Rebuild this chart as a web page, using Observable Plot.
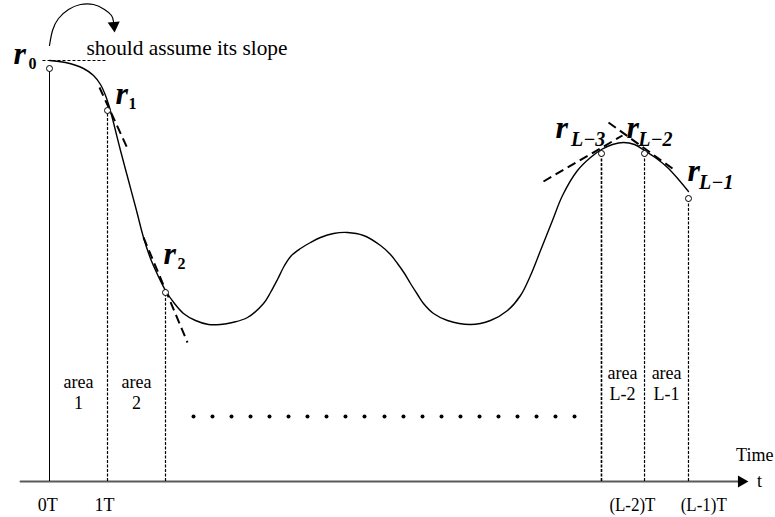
<!DOCTYPE html>
<html><head><meta charset="utf-8">
<script src="https://cdn.jsdelivr.net/npm/d3@7"></script>
<script src="https://cdn.jsdelivr.net/npm/@observablehq/plot@0.6"></script>
<style>body{margin:0;background:#fff;} #chart svg{display:block;}</style>
</head><body><div id="chart"></div>
<script>
// ---- data (time in units of T, value in arbitrary amplitude units; axis at 0) ----
const curveT = [0, 0.276, 0.586, 0.759, 0.879, 0.966, 1.034, 1.103, 1.224, 1.362, 1.5, 1.621, 1.741, 1.862, 2.0, 2.155, 2.31, 2.517, 2.741, 2.948, 3.155, 3.414, 3.69, 3.81, 3.931, 4.052, 4.172, 4.328, 4.5, 4.672, 4.897, 5.138, 5.414, 5.707, 5.879, 6.0, 6.121, 6.224, 6.345, 6.448, 6.621, 6.862, 7.259, 7.603, 7.897, 8.121, 8.293, 8.466, 8.672, 8.845, 9.103, 9.328, 9.517, 9.707, 9.897, 10.086, 10.259, 10.466, 10.655, 10.845, 11.017];
const curveV = [4.21, 4.19, 4.13, 4.06, 3.97, 3.86, 3.74, 3.59, 3.31, 3.01, 2.71, 2.44, 2.23, 2.07, 1.91, 1.78, 1.68, 1.61, 1.57, 1.57, 1.59, 1.64, 1.78, 1.89, 2.02, 2.16, 2.26, 2.33, 2.39, 2.44, 2.48, 2.49, 2.46, 2.36, 2.27, 2.18, 2.08, 1.98, 1.87, 1.78, 1.68, 1.61, 1.57, 1.61, 1.71, 1.86, 2.06, 2.31, 2.61, 2.86, 3.11, 3.24, 3.32, 3.37, 3.39, 3.37, 3.31, 3.23, 3.14, 3.02, 2.90];

const sampleT = [0, 1, 2, 9.517, 10.259, 11.017];
const pinV    = [4.13, 3.71, 1.89, 3.28, 3.28, 2.83];
const sampleSub = ["0", "1", "2", "L\u22123", "L\u22122", "L\u22121"];
const rLabelT = [-0.62, 1.138, 1.966, 8.724, 9.948, 11.0];
const rLabelV = [4.18, 3.78, 2.18, 3.44, 3.44, 3.01];
const subLabelT = [-0.36, 1.362, 2.207, 8.99, 10.15, 11.2];
const subLabelV = [4.13, 3.73, 2.13, 3.36, 3.36, 2.93];

// tangent segments at sample points
const tanT1 = [-0.121, 0.862, 1.621, 8.517, 9.638];
const tanV1 = [4.21, 3.94, 2.44, 3.00, 3.59];
const tanT2 = [1.0, 1.345, 2.379, 9.879, 10.741];
const tanV2 = [4.21, 3.33, 1.39, 3.46, 3.13];

// curved arrow over r0
const arcT = [0, 0.052, 0.155, 0.328, 0.534, 0.759, 0.948, 1.069, 1.103];
const arcV = [4.36, 4.51, 4.63, 4.72, 4.77, 4.77, 4.72, 4.66, 4.60];
const arcHeadT = [1.112];
const arcHeadV = [4.56];
const noteText = ["should assume its slope"];
const noteT = [0.638];
const noteV = [4.27];

// time axis
const axisT = [-0.5, 11.88];
const axisHeadT = [11.93];
const tickLabels = ["0T", "1T", "(L-2)T", "(L-1)T"];
const tickLabelT = [-0.03, 0.95, 10.05, 11.28];
const tickLabelV = [-0.24, -0.24, -0.24, -0.24];
const axisTitle = ["Time", "t"];
const axisTitleT = [12.16, 12.24];
const axisTitleV = [0.26, 0.0];

// area labels
const areaLabels = ["area\n1", "area\n2", "area\nL-2", "area\nL-1"];
const areaT = [0.5, 1.5, 9.88, 10.64];
const areaV = [0.90, 0.90, 0.99, 0.99];

// ellipsis dots
const dotsT = [2.483, 2.81, 3.138, 3.466, 3.793, 4.121, 4.448, 4.776, 5.103, 5.431, 5.776, 6.103, 6.431, 6.759, 7.086, 7.414, 7.741, 8.069, 8.397, 8.724, 9.052];
const dotsV = 0.65;

// ---- tables ----
const curve = curveT.map((t, i) => ({t, v: curveV[i]}));
const samples = sampleT.map((t, i) => ({t, pin: pinV[i], sub: sampleSub[i], rt: rLabelT[i], rv: rLabelV[i], st: subLabelT[i], sv: subLabelV[i], i}));
const tangents = tanT1.map((t, i) => ({x1: t, y1: tanV1[i], x2: tanT2[i], y2: tanV2[i], i}));
const arc = arcT.map((t, i) => ({t, v: arcV[i]}));
const ticks = tickLabels.map((s, i) => ({s, t: tickLabelT[i], v: tickLabelV[i]}));
const areas = areaLabels.map((s, i) => ({s, t: areaT[i], v: areaV[i]}));
const dots = dotsT.map(t => ({t, v: dotsV}));
const serif = "'Liberation Serif','Times New Roman',serif";

const plot = Plot.plot({
  width: 775, height: 517, margin: 0,
  x: {domain: [0, 1], range: [49, 107], axis: null},
  y: {domain: [0, 1], range: [481, 381], axis: null},
  style: {fontFamily: serif, background: "white", color: "black"},
  marks: [
    // time axis
    Plot.line(axisT.map(t => ({t, v: 0})), {x: "t", y: "v", stroke: "#5a5a5a", strokeWidth: 2}),
    Plot.dot(axisHeadT.map(t => ({t, v: 0})), {x: "t", y: "v", symbol: "triangle", r: 4.5, fill: "black", stroke: "none", rotate: 90}),
    // vertical pins
    Plot.ruleX(samples.filter(d => d.i === 0), {x: "t", y1: 0, y2: "pin", stroke: "black", strokeWidth: 1}),
    Plot.ruleX(samples.filter(d => d.i > 0), {x: "t", y1: 0, y2: "pin", stroke: "black", strokeWidth: d => d.i === 3 ? 1.6 : 1.2, strokeDasharray: "3,1.5"}),
    // tangents
    Plot.link(tangents.filter(d => d.i === 0), {x1: "x1", y1: "y1", x2: "x2", y2: "y2", stroke: "black", strokeWidth: 1.2, strokeDasharray: "3,2"}),
    Plot.link(tangents.filter(d => d.i > 0), {x1: "x1", y1: "y1", x2: "x2", y2: "y2", stroke: "black", strokeWidth: 2, strokeDasharray: "9,5"}),
    // the signal curve
    Plot.line(curve, {x: "t", y: "v", curve: "catmull-rom", stroke: "black", strokeWidth: 1.4}),
    // sample pins
    Plot.dot(samples, {x: "t", y: "pin", r: 3, fill: "white", stroke: "black", strokeWidth: 1}),
    // r labels
    Plot.text(samples, {x: "rt", y: "rv", text: () => "r", textAnchor: "start", lineAnchor: "bottom", fontSize: 32, fontWeight: "bold", fontStyle: "italic"}),
    Plot.text(samples.filter(d => d.i < 3), {x: "st", y: "sv", text: "sub", textAnchor: "start", lineAnchor: "bottom", fontSize: 16, fontWeight: "bold"}),
    Plot.text(samples.filter(d => d.i >= 3), {x: "st", y: "sv", text: "sub", textAnchor: "start", lineAnchor: "bottom", fontSize: 20, fontWeight: "bold", fontStyle: "italic"}),
    // curved arrow + note
    Plot.line(arc, {x: "t", y: "v", curve: "natural", stroke: "black", strokeWidth: 1.2}),
    Plot.dot(arcHeadT.map((t, i) => ({t, v: arcHeadV[i]})), {x: "t", y: "v", symbol: "triangle", r: 4.5, fill: "black", stroke: "none", rotate: 175}),
    Plot.text(noteText.map((s, i) => ({s, t: noteT[i], v: noteV[i]})), {x: "t", y: "v", text: "s", textAnchor: "start", lineAnchor: "bottom", fontSize: 21, className: "note"}),
    // axis labels
    Plot.text(ticks, {x: "t", y: "v", text: "s", textAnchor: "middle", lineAnchor: "middle", fontSize: 18, className: "ticklab"}),
    Plot.text(axisTitle.map((s, i) => ({s, t: axisTitleT[i], v: axisTitleV[i]})), {x: "t", y: "v", text: "s", textAnchor: "middle", lineAnchor: "middle", fontSize: 18}),
    // area labels
    Plot.text(areas, {x: "t", y: "v", text: "s", textAnchor: "middle", lineAnchor: "middle", fontSize: 18, lineHeight: 1.2}),
    // ellipsis
    Plot.dot(dots, {x: "t", y: "v", r: 2, fill: "black", stroke: "none"})
  ]
});
document.getElementById("chart").append(plot);
// compress the narrow serif labels to the widths seen in the figure
d3.select(plot).selectAll(".ticklab text").each(function() {
  const s = this.textContent;
  if (s.startsWith("(")) { d3.select(this).attr("textLength", 46).attr("lengthAdjust", "spacingAndGlyphs"); }
});
d3.select(plot).selectAll(".note text").attr("textLength", 201).attr("lengthAdjust", "spacingAndGlyphs");
</script>
</body></html>
